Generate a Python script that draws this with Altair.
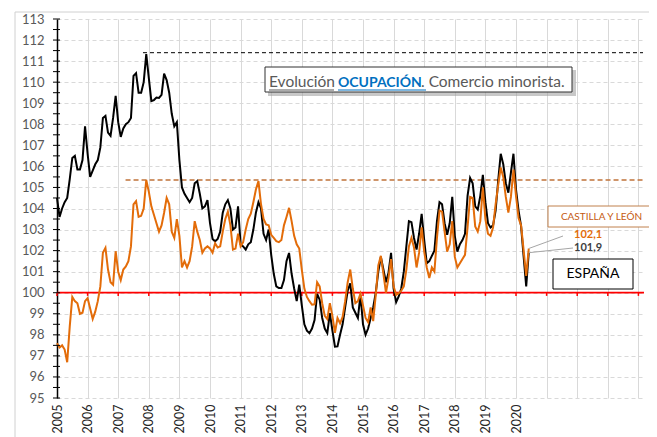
import altair as alt
import pandas as pd

# ---------------- data (monthly, Jan 2005 - Jun 2020) ----------------
start_year = 2005
espana = [
    104.5, 103.6, 104.0, 104.3, 104.5, 105.4, 106.4, 106.5, 105.85, 105.85, 106.3, 107.9,
    106.6, 105.5, 105.8, 106.1, 106.3, 106.9, 108.3, 108.4, 107.6, 107.45, 108.3, 109.35,
    108.1, 107.4, 107.8, 108.0, 108.1, 108.3, 110.3, 110.43, 109.5, 109.5, 110.0, 111.33,
    110.2, 109.1, 109.15, 109.27, 109.25, 109.4, 110.4, 110.1, 109.5, 108.5, 107.9, 108.1,
    106.3, 105.0, 104.7, 104.5, 104.3, 104.5, 105.2, 105.3, 104.7, 104.0, 104.1, 104.4,
    103.3, 102.55, 102.44, 102.55, 102.9, 103.8, 104.2, 104.4, 104.0, 103.0, 103.1, 104.1,
    102.3, 102.2, 102.05, 102.3, 102.4, 103.0, 103.8, 104.3, 104.0, 102.8, 102.5, 103.0,
    101.8, 100.9, 100.3, 100.22, 100.22, 100.6, 101.5, 101.89, 100.9, 100.2, 99.6, 100.38,
    99.4, 98.5, 98.2, 98.08, 98.3, 98.7, 99.95, 99.67, 98.8, 98.3, 98.08, 99.03,
    98.2, 97.44, 97.45, 98.0, 98.5, 99.3, 100.1, 100.45, 99.3, 99.05, 98.8, 99.9,
    98.5, 98.0, 98.3, 98.8, 99.3, 100.0, 101.0, 101.7, 101.1, 100.5, 100.95, 101.89,
    100.2, 99.55, 99.82, 100.2, 101.0, 102.2, 103.4, 103.35, 102.6, 102.05, 102.8, 103.75,
    102.5, 101.4, 101.5, 101.75, 102.0, 103.4, 104.3, 104.2, 103.3, 102.75, 103.3, 104.55,
    102.7, 101.95, 102.3, 102.5, 102.8, 104.6, 105.45, 105.2, 104.1, 103.95, 104.6, 105.6,
    104.3, 103.3, 103.1, 103.2, 103.9, 105.3, 106.6, 106.1, 105.2, 104.75, 105.7, 106.6,
    104.9, 103.9, 103.15, 101.7, 100.3, 101.9,
]
castilla = [
    97.6, 97.4, 97.5, 97.3, 96.7, 98.4, 99.8, 99.6, 99.5, 99.0, 99.05, 99.6,
    99.74, 99.25, 98.75, 99.1, 99.6, 100.3, 101.9, 102.13, 101.1, 100.5, 100.38, 101.97,
    101.0, 100.6, 101.1, 101.25, 101.5, 102.2, 104.2, 104.35, 103.6, 103.65, 104.0, 105.35,
    104.8, 104.1, 103.7, 103.3, 102.9, 103.2, 103.8, 104.5, 104.2, 102.9, 102.6, 103.5,
    102.7, 101.2, 101.5, 101.2, 101.5, 102.2, 103.4, 102.9, 102.5, 101.9, 102.1, 102.2,
    102.1, 101.9, 102.35, 102.15, 102.2, 102.9, 103.5, 103.85, 103.2, 102.05, 102.1, 102.8,
    102.2, 102.4, 103.0, 103.5, 103.75, 104.3, 104.9, 105.3, 104.2, 103.5, 103.24, 103.2,
    102.75, 102.6, 102.45, 102.4, 102.5, 103.2, 103.6, 104.03, 103.4, 102.7, 102.3, 102.1,
    101.1, 100.2, 99.8, 99.6, 99.43, 99.45, 100.5, 100.3, 99.5, 98.9, 98.75, 99.5,
    98.9, 98.1, 98.8, 98.55, 98.85, 99.6, 100.5, 101.1, 100.2, 99.5, 99.6, 99.95,
    99.4, 98.8, 98.6, 99.3, 98.65, 99.9, 101.3, 101.75, 100.9, 100.0, 100.7, 101.6,
    100.3, 99.9, 99.98, 100.1, 100.3, 101.1, 102.2, 102.6, 102.15, 101.2, 101.9, 103.1,
    101.95, 101.2, 100.7, 101.2, 101.0, 102.6, 103.9, 103.85, 102.9, 101.95, 102.3, 103.4,
    101.7, 101.2, 101.4, 101.6, 101.8, 103.1, 104.55, 104.5, 103.15, 102.9, 103.4, 105.0,
    103.5, 102.8, 102.7, 103.1, 104.2, 105.1, 105.95, 105.5, 104.55, 103.8, 104.55, 105.85,
    104.6, 103.55, 103.2, 102.0, 100.8, 102.1,
]
series_names = ["ESPAÑA", "CASTILLA Y LEÓN"]
series_colors = ["#000000", "#E36C09"]

ref_start = [2007.81, 2007.24]      # where the dashed max lines begin
ref_value = [111.4, 105.35]
x_end = 2024.15
y_labels = list(range(95, 114))
y_ticks = [95 + 0.5 * i for i in range(37)]
years = list(range(2005, 2025))

rows = []
for name, vals in zip(series_names, [espana, castilla]):
    for m, v in enumerate(vals):
        rows.append({"t": start_year + m / 12, "value": v, "serie": name})
df = pd.DataFrame(rows)

FONT = "Lato"
XS = alt.Scale(domain=[2005, x_end], nice=False, zero=False)
YS = alt.Scale(domain=[95, 113], nice=False, zero=False)
X_AXIS = alt.Axis(values=years, format="d",
                  labelExpr="datum.value <= 2020 ? datum.label : ''",
                  labelAngle=-90, labelFontSize=12.5, labelColor="#262626", labelFont=FONT,
                  labelFlush=False, labelOverlap=False, labelPadding=6,
                  grid=True, gridColor="#D9D9D9", gridWidth=1,
                  ticks=False, domain=False, title=None)
Y_AXIS = alt.Axis(values=y_labels, grid=True, gridDash=[4, 3], gridColor="#D9D9D9",
                  domain=True, domainColor="#000000", domainWidth=1.5,
                  ticks=False, labelPadding=13, labelFontSize=13, labelColor="#595959",
                  labelFont=FONT, labelFlush=False, labelOverlap=False, title=None)


def X(field="t"):
    return alt.X(field, type="quantitative", scale=XS, axis=X_AXIS)


def Y(field="value"):
    return alt.Y(field, type="quantitative", scale=YS, axis=Y_AXIS)


one = pd.DataFrame({"k": [0]})

# outer frame (outline only)
frame = alt.Chart(one).mark_rect(fillOpacity=0, stroke="#D0D0D0", strokeWidth=1).encode(
    x=alt.value(-42), x2=alt.value(620), y=alt.value(-7), y2=alt.value(440))

# lines
lines_esp = alt.Chart(df[df.serie == series_names[0]]).mark_line(strokeWidth=2, color=series_colors[0]).encode(x=X(), y=Y())
lines_cyl = alt.Chart(df[df.serie == series_names[1]]).mark_line(strokeWidth=2, color=series_colors[1]).encode(x=X(), y=Y())

# y-axis crossing ticks
tick_df = pd.DataFrame({"value": y_ticks})
yticks = alt.Chart(tick_df).mark_rule(color="#000000", strokeWidth=1).encode(
    y=Y(), x=alt.value(-4), x2=alt.value(3))

# red base line at 100 with small ticks
red_df = pd.DataFrame({"value": [100]})
red_line = alt.Chart(red_df).mark_rule(color="#FF0000", strokeWidth=1.8).encode(
    y=Y(), x=alt.value(0), x2=alt.value(587))
red_ticks_df = pd.DataFrame({"t": years, "value": [100] * len(years), "v2": [99.85] * len(years)})
red_ticks = alt.Chart(red_ticks_df).mark_rule(color="#FF0000", strokeWidth=1.5).encode(
    x=X(), y=Y(), y2="v2")

# dashed max lines
ref_esp = alt.Chart(pd.DataFrame({"t": [ref_start[0]], "t2": [x_end], "value": [ref_value[0]]})).mark_rule(
    color="#000000", strokeWidth=1, strokeDash=[4, 3]).encode(x=X(), x2="t2", y=Y())
ref_cyl = alt.Chart(pd.DataFrame({"t": [ref_start[1]], "t2": [x_end], "value": [ref_value[1]]})).mark_rule(
    color="#C0733A", strokeWidth=1.5, strokeDash=[5, 3]).encode(x=X(), x2="t2", y=Y())

# title box
title_shadow = alt.Chart(one).mark_rect(fill="#9A9A9A", opacity=0.55).encode(
    x=alt.value(211), x2=alt.value(519), y=alt.value(51), y2=alt.value(77))
title_box = alt.Chart(one).mark_rect(fill="white", stroke="#303030", strokeWidth=1).encode(
    x=alt.value(208), x2=alt.value(515), y=alt.value(48), y2=alt.value(73))
t1 = alt.Chart(pd.DataFrame({"s": ["Evolución"]})).mark_text(
    font=FONT, fontSize=15.5, color="#595959", align="left", baseline="alphabetic").encode(
    text="s:N", x=alt.value(212), y=alt.value(68))
t2 = alt.Chart(pd.DataFrame({"s": ["OCUPACIÓN"]})).mark_text(
    font=FONT, fontSize=14, fontWeight="bold", color="#0070C0", align="left", baseline="alphabetic").encode(
    text="s:N", x=alt.value(281), y=alt.value(68))
t3 = alt.Chart(pd.DataFrame({"s": [". Comercio minorista."]})).mark_text(
    font=FONT, fontSize=15.5, color="#595959", align="left", baseline="alphabetic").encode(
    text="s:N", x=alt.value(364), y=alt.value(68))
u1 = alt.Chart(one).mark_rule(color="#595959", strokeWidth=1.2).encode(
    x=alt.value(212), x2=alt.value(277), y=alt.value(71))
u2 = alt.Chart(one).mark_rule(color="#0070C0", strokeWidth=1.2).encode(
    x=alt.value(281), x2=alt.value(369), y=alt.value(71))

# legend boxes
cyl_box = alt.Chart(one).mark_rect(fill="white", stroke="#C0804D", strokeWidth=1).encode(
    x=alt.value(491), x2=alt.value(598), y=alt.value(187), y2=alt.value(208))
cyl_txt = alt.Chart(pd.DataFrame({"s": [series_names[1]]})).mark_text(
    font=FONT, fontSize=10, color="#C55A11", align="center", baseline="middle").encode(
    text="s:N", x=alt.value(544.5), y=alt.value(198))
esp_box = alt.Chart(one).mark_rect(fill="white", stroke="#000000", strokeWidth=1).encode(
    x=alt.value(496), x2=alt.value(576), y=alt.value(240), y2=alt.value(270))
esp_txt = alt.Chart(pd.DataFrame({"s": [series_names[0]]})).mark_text(
    font=FONT, fontSize=14, color="#000000", align="center", baseline="middle").encode(
    text="s:N", x=alt.value(536), y=alt.value(255))

# last-value labels with leader lines
last_cyl = pd.DataFrame({"t": [start_year + (len(castilla) - 1) / 12], "value": [castilla[-1]],
                         "lab": [f"{castilla[-1]:.1f}".replace(".", ",")]})
last_esp = pd.DataFrame({"t": [start_year + (len(espana) - 1) / 12], "value": [espana[-1]],
                         "lab": [f"{espana[-1]:.1f}".replace(".", ",")]})
lead_cyl = alt.Chart(last_cyl).mark_rule(color="#A6A6A6", strokeWidth=1).encode(
    x=X(), y=Y(), x2=alt.value(506), y2=alt.value(217))
lead_esp = alt.Chart(last_esp).mark_rule(color="#A6A6A6", strokeWidth=1).encode(
    x=X(), y=Y(), x2=alt.value(516), y2=alt.value(229))
lab_cyl = alt.Chart(last_cyl).mark_text(font=FONT, fontSize=11, fontWeight="bold", color="#E36C09",
                                        align="left", baseline="middle").encode(
    text="lab:N", x=alt.value(517), y=alt.value(216))
lab_esp = alt.Chart(last_esp).mark_text(font=FONT, fontSize=11, fontWeight="bold", color="#404040",
                                        align="left", baseline="middle").encode(
    text="lab:N", x=alt.value(517), y=alt.value(229))

chart = alt.layer(
    frame, ref_esp, ref_cyl, red_line, red_ticks, lines_esp, lines_cyl, yticks,
    title_shadow, title_box, t1, t2, t3, u1, u2,
    cyl_box, cyl_txt, esp_box, esp_txt,
    lead_cyl, lead_esp, lab_cyl, lab_esp,
).properties(
    width=586, height=379,
    autosize=alt.AutoSizeParams(type="none"),
    padding={"left": 49, "top": 11, "right": 6, "bottom": 39},
    background="white",
).configure_view(stroke=None)

chart.save("out.html", embed_options={"renderer": "svg", "actions": False})
